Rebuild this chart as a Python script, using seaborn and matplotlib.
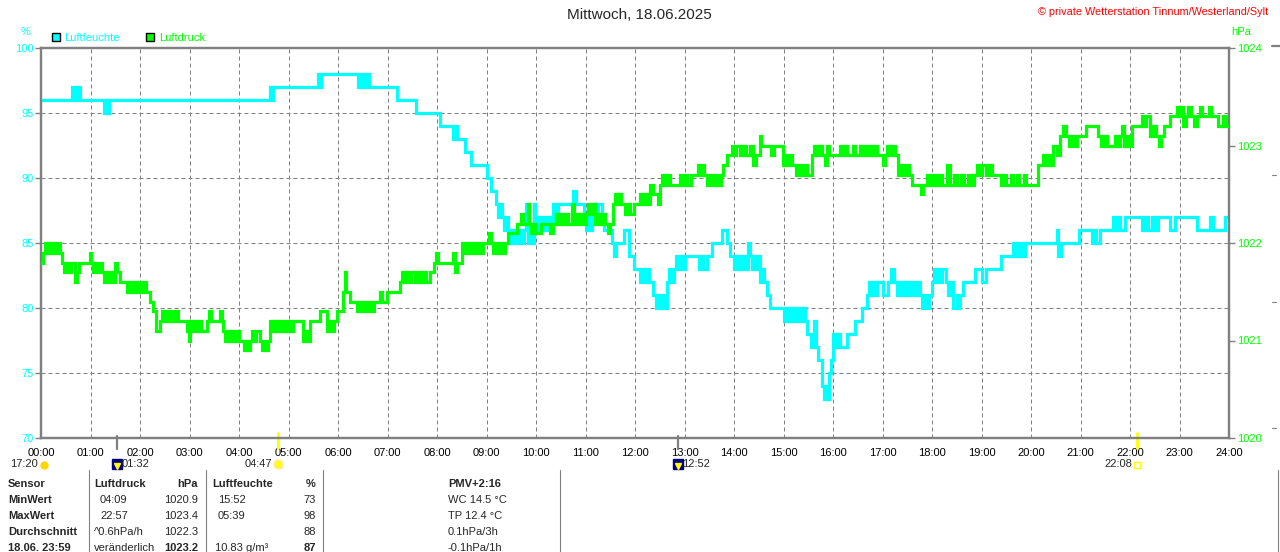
import matplotlib
matplotlib.use("Agg")
import matplotlib.pyplot as plt
from matplotlib.lines import Line2D
import pandas as pd
import seaborn as sns

# humidity (%) step series: hour of day -> value
hum_t = [0.00, 0.63, 0.67, 0.70, 0.74, 0.76, 0.79, 1.27, 1.31, 1.34,
         1.38, 4.63, 4.66, 4.69, 5.60, 5.63, 5.66, 6.40, 6.43, 6.47,
         6.51, 6.55, 6.58, 6.62, 7.20, 7.57, 8.07, 8.33, 8.36, 8.40,
         8.57, 8.68, 9.00, 9.10, 9.20, 9.24, 9.28, 9.32, 9.36, 9.40,
         9.43, 9.47, 9.51, 9.55, 9.59, 9.63, 9.67, 9.71, 9.75, 9.80,
         9.83, 9.87, 9.90, 9.95, 9.98, 10.02, 10.06, 10.10, 10.14, 10.18,
         10.22, 10.26, 10.30, 10.35, 10.38, 10.45, 10.75, 10.80, 10.97, 11.01,
         11.05, 11.09, 11.13, 11.17, 11.22, 11.26, 11.33, 11.38, 11.53, 11.57,
         11.61, 11.77, 11.87, 11.97, 12.10, 12.15, 12.19, 12.24, 12.28, 12.37,
         12.42, 12.45, 12.50, 12.55, 12.60, 12.65, 12.69, 12.73, 12.78, 12.82,
         12.86, 12.90, 12.94, 13.00, 13.30, 13.34, 13.38, 13.45, 13.55, 13.75,
         13.85, 13.92, 14.00, 14.04, 14.08, 14.12, 14.16, 14.20, 14.24, 14.28,
         14.32, 14.36, 14.40, 14.44, 14.48, 14.52, 14.56, 14.60, 14.66, 14.72,
         15.00, 15.04, 15.08, 15.12, 15.16, 15.20, 15.25, 15.30, 15.35, 15.40,
         15.44, 15.47, 15.55, 15.62, 15.65, 15.70, 15.78, 15.82, 15.86, 15.88,
         15.92, 15.96, 16.00, 16.04, 16.08, 16.14, 16.28, 16.45, 16.58, 16.68,
         16.72, 16.76, 16.80, 16.84, 16.88, 17.02, 17.12, 17.18, 17.24, 17.29,
         17.33, 17.37, 17.41, 17.45, 17.50, 17.55, 17.60, 17.65, 17.70, 17.76,
         17.80, 17.84, 17.88, 17.93, 17.99, 18.04, 18.08, 18.12, 18.16, 18.20,
         18.29, 18.33, 18.38, 18.43, 18.50, 18.53, 18.56, 18.63, 18.87, 19.00,
         19.10, 19.40, 19.64, 19.68, 19.72, 19.76, 19.80, 19.84, 19.88, 20.52,
         20.55, 20.60, 20.96, 21.23, 21.27, 21.31, 21.39, 21.66, 21.70, 21.75,
         21.80, 21.90, 22.24, 22.30, 22.36, 22.45, 22.50, 22.57, 22.81, 22.91,
         23.35, 23.62, 23.68, 23.92, 24.00]
hum_v = [96, 97, 96, 97, 96, 97, 96, 95, 96, 95,
         96, 97, 96, 97, 98, 97, 98, 97, 98, 97,
         98, 97, 98, 97, 96, 95, 94, 93, 94, 93,
         92, 91, 90, 89, 88, 87, 88, 87, 86, 87,
         86, 85, 86, 85, 86, 85, 86, 85, 86, 88,
         85, 86, 85, 88, 86, 87, 86, 87, 86, 87,
         86, 87, 86, 88, 87, 88, 89, 88, 87, 86,
         87, 86, 87, 88, 87, 88, 87, 86, 85, 84,
         85, 86, 84, 83, 82, 83, 82, 83, 82, 81,
         80, 81, 80, 81, 80, 82, 83, 82, 83, 84,
         83, 84, 83, 84, 83, 84, 83, 84, 85, 86,
         85, 84, 83, 84, 83, 84, 83, 84, 83, 85,
         84, 83, 84, 83, 84, 82, 83, 82, 81, 80,
         79, 80, 79, 80, 79, 80, 79, 80, 79, 80,
         79, 78, 77, 79, 77, 76, 74, 73, 74, 73,
         75, 76, 78, 77, 78, 77, 78, 79, 80, 81,
         82, 81, 82, 81, 82, 81, 82, 83, 82, 81,
         82, 81, 82, 81, 82, 81, 82, 81, 82, 81,
         80, 81, 80, 81, 82, 83, 82, 83, 82, 83,
         82, 81, 82, 80, 81, 80, 81, 82, 83, 82,
         83, 84, 85, 84, 85, 84, 85, 84, 85, 86,
         84, 85, 86, 85, 86, 85, 86, 87, 86, 87,
         86, 87, 86, 87, 86, 87, 86, 87, 86, 87,
         86, 87, 86, 87, 87]

# air pressure (hPa) step series
pres_t = [0.00, 0.05, 0.08, 0.12, 0.15, 0.20, 0.24, 0.30, 0.34, 0.38,
          0.42, 0.46, 0.50, 0.55, 0.60, 0.68, 0.72, 0.76, 0.98, 1.01,
          1.05, 1.09, 1.13, 1.17, 1.23, 1.27, 1.31, 1.35, 1.40, 1.45,
          1.50, 1.53, 1.60, 1.73, 1.78, 1.82, 1.88, 1.92, 1.98, 2.02,
          2.08, 2.12, 2.20, 2.26, 2.33, 2.40, 2.44, 2.48, 2.52, 2.56,
          2.62, 2.66, 2.72, 2.76, 2.94, 2.98, 3.02, 3.06, 3.10, 3.14,
          3.20, 3.24, 3.35, 3.40, 3.43, 3.62, 3.65, 3.68, 3.72, 3.76,
          3.80, 3.85, 3.90, 3.95, 4.00, 4.10, 4.14, 4.18, 4.22, 4.26,
          4.30, 4.34, 4.42, 4.46, 4.50, 4.54, 4.58, 4.63, 4.67, 4.71,
          4.75, 4.80, 4.85, 4.90, 4.95, 5.00, 5.05, 5.10, 5.30, 5.34,
          5.38, 5.43, 5.64, 5.77, 5.81, 5.86, 5.92, 5.97, 6.11, 6.14,
          6.17, 6.25, 6.38, 6.42, 6.47, 6.52, 6.57, 6.62, 6.67, 6.72,
          6.85, 6.88, 6.98, 7.25, 7.29, 7.33, 7.37, 7.42, 7.48, 7.55,
          7.62, 7.66, 7.72, 7.78, 7.86, 7.93, 7.98, 8.02, 8.33, 8.36,
          8.40, 8.50, 8.55, 8.60, 8.66, 8.73, 8.78, 8.83, 8.88, 8.93,
          9.05, 9.09, 9.14, 9.18, 9.22, 9.28, 9.32, 9.38, 9.44, 9.61,
          9.70, 9.74, 9.83, 9.86, 9.90, 9.94, 9.98, 10.10, 10.28, 10.35,
          10.40, 10.44, 10.50, 10.55, 10.60, 10.65, 10.72, 10.76, 10.80, 10.86,
          10.92, 10.98, 11.02, 11.06, 11.10, 11.14, 11.20, 11.25, 11.30, 11.35,
          11.39, 11.45, 11.50, 11.56, 11.60, 11.64, 11.68, 11.72, 11.80, 11.85,
          11.90, 11.97, 12.10, 12.14, 12.20, 12.25, 12.30, 12.37, 12.46, 12.50,
          12.55, 12.60, 12.65, 12.70, 12.90, 12.95, 13.00, 13.05, 13.14, 13.28,
          13.32, 13.36, 13.40, 13.45, 13.50, 13.55, 13.62, 13.68, 13.73, 13.78,
          13.85, 13.95, 14.00, 14.05, 14.12, 14.18, 14.25, 14.32, 14.39, 14.45,
          14.52, 14.55, 14.75, 14.80, 14.98, 15.02, 15.06, 15.12, 15.18, 15.25,
          15.30, 15.35, 15.42, 15.48, 15.57, 15.62, 15.67, 15.72, 15.78, 15.83,
          15.87, 15.92, 16.00, 16.14, 16.18, 16.22, 16.28, 16.40, 16.44, 16.55,
          16.58, 16.62, 16.68, 16.74, 16.80, 16.84, 16.88, 17.00, 17.05, 17.10,
          17.15, 17.20, 17.25, 17.32, 17.38, 17.42, 17.48, 17.54, 17.59, 17.78,
          17.82, 17.90, 17.95, 18.02, 18.08, 18.14, 18.20, 18.30, 18.36, 18.45,
          18.50, 18.58, 18.64, 18.72, 18.78, 18.84, 18.90, 18.96, 19.02, 19.10,
          19.16, 19.22, 19.40, 19.45, 19.50, 19.60, 19.64, 19.72, 19.76, 19.85,
          19.90, 20.15, 20.25, 20.30, 20.36, 20.40, 20.45, 20.52, 20.59, 20.64,
          20.70, 20.76, 20.80, 20.86, 20.92, 21.12, 21.36, 21.42, 21.48, 21.54,
          21.70, 21.74, 21.80, 21.84, 21.88, 21.94, 22.00, 22.04, 22.24, 22.28,
          22.32, 22.40, 22.46, 22.52, 22.58, 22.62, 22.68, 22.81, 22.95, 23.00,
          23.04, 23.08, 23.13, 23.18, 23.24, 23.30, 23.35, 23.42, 23.46, 23.60,
          23.64, 23.78, 23.88, 23.94, 24.00]
pres_v = [1021.8, 1021.9, 1022.0, 1021.9, 1022.0, 1021.9, 1022.0, 1021.9, 1022.0, 1021.9,
          1021.8, 1021.7, 1021.8, 1021.7, 1021.8, 1021.6, 1021.7, 1021.8, 1021.9, 1021.8,
          1021.7, 1021.8, 1021.7, 1021.8, 1021.7, 1021.6, 1021.7, 1021.6, 1021.7, 1021.6,
          1021.8, 1021.7, 1021.6, 1021.5, 1021.6, 1021.5, 1021.6, 1021.5, 1021.6, 1021.5,
          1021.6, 1021.5, 1021.4, 1021.3, 1021.1, 1021.2, 1021.3, 1021.2, 1021.3, 1021.2,
          1021.3, 1021.2, 1021.3, 1021.2, 1021.1, 1021.0, 1021.2, 1021.1, 1021.2, 1021.1,
          1021.2, 1021.1, 1021.2, 1021.3, 1021.2, 1021.3, 1021.2, 1021.1, 1021.0, 1021.1,
          1021.0, 1021.1, 1021.0, 1021.1, 1021.0, 1020.9, 1021.0, 1020.9, 1021.0, 1021.1,
          1021.0, 1021.1, 1021.0, 1020.9, 1021.0, 1020.9, 1021.0, 1021.2, 1021.1, 1021.2,
          1021.1, 1021.2, 1021.1, 1021.2, 1021.1, 1021.2, 1021.1, 1021.2, 1021.0, 1021.1,
          1021.0, 1021.2, 1021.3, 1021.1, 1021.2, 1021.1, 1021.2, 1021.3, 1021.5, 1021.7,
          1021.5, 1021.4, 1021.3, 1021.4, 1021.3, 1021.4, 1021.3, 1021.4, 1021.3, 1021.4,
          1021.5, 1021.4, 1021.5, 1021.6, 1021.7, 1021.6, 1021.7, 1021.6, 1021.7, 1021.6,
          1021.7, 1021.6, 1021.7, 1021.6, 1021.7, 1021.8, 1021.9, 1021.8, 1021.9, 1021.7,
          1021.8, 1022.0, 1021.9, 1022.0, 1021.9, 1022.0, 1021.9, 1022.0, 1021.9, 1022.0,
          1022.1, 1022.0, 1021.9, 1022.0, 1021.9, 1022.0, 1021.9, 1022.0, 1022.1, 1022.2,
          1022.3, 1022.2, 1022.4, 1022.2, 1022.1, 1022.2, 1022.1, 1022.2, 1022.1, 1022.2,
          1022.3, 1022.2, 1022.3, 1022.2, 1022.3, 1022.2, 1022.4, 1022.2, 1022.3, 1022.2,
          1022.3, 1022.2, 1022.3, 1022.4, 1022.3, 1022.4, 1022.2, 1022.3, 1022.2, 1022.3,
          1022.2, 1022.1, 1022.2, 1022.4, 1022.5, 1022.4, 1022.5, 1022.4, 1022.3, 1022.4,
          1022.3, 1022.4, 1022.5, 1022.4, 1022.5, 1022.4, 1022.6, 1022.5, 1022.4, 1022.6,
          1022.7, 1022.6, 1022.7, 1022.6, 1022.7, 1022.6, 1022.7, 1022.6, 1022.7, 1022.8,
          1022.7, 1022.8, 1022.7, 1022.6, 1022.7, 1022.6, 1022.7, 1022.6, 1022.7, 1022.8,
          1022.9, 1023.0, 1022.9, 1023.0, 1022.9, 1023.0, 1022.9, 1023.0, 1022.8, 1022.9,
          1023.1, 1023.0, 1022.9, 1023.0, 1022.8, 1022.9, 1022.8, 1022.9, 1022.8, 1022.7,
          1022.8, 1022.7, 1022.8, 1022.7, 1022.9, 1023.0, 1022.9, 1023.0, 1022.9, 1022.8,
          1023.0, 1022.9, 1022.9, 1023.0, 1022.9, 1023.0, 1022.9, 1023.0, 1022.9, 1023.0,
          1022.9, 1023.0, 1022.9, 1023.0, 1022.9, 1023.0, 1022.9, 1022.8, 1022.9, 1023.0,
          1022.9, 1023.0, 1022.9, 1022.7, 1022.8, 1022.7, 1022.8, 1022.7, 1022.6, 1022.5,
          1022.6, 1022.7, 1022.6, 1022.7, 1022.6, 1022.7, 1022.6, 1022.8, 1022.6, 1022.7,
          1022.6, 1022.7, 1022.6, 1022.7, 1022.6, 1022.7, 1022.8, 1022.7, 1022.8, 1022.7,
          1022.8, 1022.7, 1022.6, 1022.7, 1022.6, 1022.7, 1022.6, 1022.7, 1022.6, 1022.7,
          1022.6, 1022.8, 1022.9, 1022.8, 1022.9, 1022.8, 1023.0, 1022.9, 1023.1, 1023.2,
          1023.1, 1023.0, 1023.1, 1023.0, 1023.1, 1023.2, 1023.1, 1023.0, 1023.1, 1023.0,
          1023.1, 1023.0, 1023.1, 1023.2, 1023.0, 1023.1, 1023.0, 1023.2, 1023.3, 1023.2,
          1023.3, 1023.1, 1023.2, 1023.1, 1023.0, 1023.1, 1023.2, 1023.3, 1023.4, 1023.3,
          1023.4, 1023.2, 1023.3, 1023.4, 1023.3, 1023.2, 1023.3, 1023.4, 1023.3, 1023.4,
          1023.3, 1023.2, 1023.3, 1023.2, 1023.2]

hours = list(range(25))
hour_labels = ["%02d:00" % h for h in hours]
hum_ticks = [70, 75, 80, 85, 90, 95, 100]
pres_ticks = [1020, 1021, 1022, 1023, 1024]

# sun / moon events (hour of day)
moonrise, moonset = 1 + 32 / 60, 12 + 52 / 60
sunrise, sunset = 4 + 47 / 60, 22 + 8 / 60

title = "Mittwoch, 18.06.2025"
credit = "\u00a9 private Wetterstation Tinnum/Westerland/Sylt"

# bottom table
col_sensor = ["Sensor", "MinWert", "MaxWert", "Durchschnitt", "18.06. 23:59"]
col_p_info = ["Luftdruck", "04:09", "22:57", "^0.6hPa/h", "ver\u00e4nderlich"]
col_p_val = ["hPa", "1020.9", "1023.4", "1022.3", "1023.2"]
col_h_info = ["Luftfeuchte", "15:52", "05:39", "", "10.83 g/m\u00b3"]
col_h_val = ["%", "73", "98", "88", "87"]
col_extra = ["PMV+2:16", "WC 14.5 \u00b0C", "TP 12.4 \u00b0C", "0.1hPa/3h", "-0.1hPa/1h"]

CYAN = "#00ffff"
GREEN = "#00ff00"
GRAY = "#808080"

sns.set_style("white")
plt.rcParams["font.family"] = ["Liberation Sans", "DejaVu Sans"]
plt.rcParams["font.size"] = 8

W, H = 1280, 552
fig = plt.figure(figsize=(W / 100, H / 100), dpi=100)


def fx(x):
    return x / W


def fy(y):
    return 1 - y / H


ax = fig.add_axes([fx(41), fy(438), (1229 - 41) / W, (438 - 48) / H])
ax2 = ax.twinx()

hum = pd.DataFrame({"t": hum_t, "v": hum_v})
pres = pd.DataFrame({"t": pres_t, "v": pres_v})
sns.lineplot(data=hum, x="t", y="v", ax=ax, color=CYAN, lw=2.3,
             drawstyle="steps-post", estimator=None, sort=False, legend=False,
             solid_joinstyle="miter", zorder=3)
sns.lineplot(data=pres, x="t", y="v", ax=ax2, color=GREEN, lw=2.3,
             drawstyle="steps-post", estimator=None, sort=False, legend=False,
             solid_joinstyle="miter", zorder=3)

ax.set_xlim(0, 24)
ax.set_ylim(70, 100)
ax2.set_ylim(1020, 1024)
ax.set_xticks(hours)
ax.set_xticklabels(hour_labels)
ax.set_yticks(hum_ticks)
ax2.set_yticks(pres_ticks)
for a in (ax, ax2):
    a.set_xlabel("")
    a.set_ylabel("")
    for sp in a.spines.values():
        sp.set_color(GRAY)
        sp.set_linewidth(1.6)

ax.grid(True, color=GRAY, lw=0.72, ls=(0, (4, 3)))
ax.set_axisbelow(True)
ax.tick_params(axis="x", length=0, pad=7.5, labelcolor="black", labelsize=8)
ax.tick_params(axis="y", direction="out", length=4, width=1, color=GRAY,
               labelcolor=CYAN, pad=1, labelsize=8)
ax2.tick_params(axis="y", direction="out", length=4, width=1, color=GRAY,
                labelcolor=GREEN, pad=1.5, labelsize=8)

# header texts
fig.text(fx(639), fy(15), title, ha="center", va="center", fontsize=11)
fig.text(fx(1268), fy(12), credit, ha="right", va="center", fontsize=7.8, color="red")
fig.text(fx(26), fy(32), "%", ha="center", va="center", fontsize=8, color=CYAN)
fig.text(fx(1231), fy(32), "hPa", ha="left", va="center", fontsize=8, color=GREEN)

# legend
for xs, xt, name, col in [(55.5, 64, "Luftfeuchte", CYAN), (149.5, 159, "Luftdruck", GREEN)]:
    fig.add_artist(Line2D([fx(xs)], [fy(37)], transform=fig.transFigure, marker="s",
                          ms=6, mfc=col, mec="black", mew=1, ls="none"))
    fig.text(fx(xt), fy(38), name, ha="left", va="center", fontsize=8, color=col)

# sun / moon markers on the time axis
xt = ax.get_xaxis_transform()


def ay(y):
    return (438 - y) / 390


ax.plot([moonrise, moonrise], [ay(436), ay(449)], transform=xt, color=GRAY, lw=1.6, clip_on=False)
ax.plot([moonset, moonset], [ay(436), ay(449)], transform=xt, color=GRAY, lw=1.6, clip_on=False)
ax.plot([sunrise, sunrise], [ay(433), ay(448)], transform=xt, color="#ffff00", lw=2, clip_on=False)
ax.plot([sunset, sunset], [ay(433), ay(448)], transform=xt, color="#ffff00", lw=2, clip_on=False)

yrow = ay(464)
# day length with a sun icon at the start
ax.text(-0.06, yrow, "17:20", transform=xt, ha="right", va="center", fontsize=8)
ax.plot([0.06], [ay(465)], transform=xt, marker="o", ms=5, color="#ffd700",
        clip_on=False, ls="none")
for t, txt in [(moonrise, "01:32"), (moonset, "12:52")]:
    ax.plot([t], [yrow], transform=xt, marker="s", ms=7, mfc="#000080", mec="#000080",
            clip_on=False, ls="none")
    ax.plot([t], [ay(466)], transform=xt, marker="v", ms=4, color="#ffff00",
            clip_on=False, ls="none")
    ax.text(t + 0.09, yrow, txt, transform=xt, ha="left", va="center", fontsize=8)
ax.plot([sunrise], [yrow], transform=xt, marker="o", ms=6, mfc="#ffff00", mec="#ffee88",
        mew=1.5, clip_on=False, ls="none")
ax.text(sunrise - 0.12, yrow, "04:47", transform=xt, ha="right", va="center", fontsize=8)
ax.plot([sunset], [ay(465)], transform=xt, marker="s", ms=4, mfc="none", mec="#ffff00",
        mew=1, clip_on=False, ls="none")
ax.text(sunset - 0.09, yrow, "22:08", transform=xt, ha="right", va="center", fontsize=8)

# table
rows_y = [484, 500, 516, 532, 548]
for i, y in enumerate(rows_y):
    head = i == 0
    fig.text(fx(8), fy(y), col_sensor[i], ha="left", va="center", fontsize=8, fontweight="bold")
    fig.text(fx(94 if i in (0, 3, 4) else 100), fy(y), col_p_info[i], ha="left", va="center",
             fontsize=8, fontweight="bold" if head else "normal")
    fig.text(fx(198), fy(y), col_p_val[i], ha="right", va="center", fontsize=8,
             fontweight="bold" if i in (0, 4) else "normal")
    fig.text(fx(212 if head else 218 if i < 4 else 215), fy(y), col_h_info[i], ha="left",
             va="center", fontsize=8, fontweight="bold" if head else "normal")
    fig.text(fx(316), fy(y), col_h_val[i], ha="right", va="center", fontsize=8,
             fontweight="bold" if i in (0, 4) else "normal")
    fig.text(fx(448), fy(y), col_extra[i], ha="left", va="center", fontsize=8,
             fontweight="bold" if head else "normal")

for xs in [88.8, 205.9, 323.4, 559.5, 1278]:
    fig.add_artist(Line2D([fx(xs), fx(xs)], [fy(470), fy(552)], transform=fig.transFigure,
                          color=GRAY, lw=0.8))

# start of the neighbouring panel at the right edge
fig.add_artist(Line2D([fx(1272), fx(1280)], [fy(46), fy(46)], transform=fig.transFigure,
                      color=GRAY, lw=1.6))
for yy in [175, 302, 428]:
    fig.add_artist(Line2D([fx(1272), fx(1276)], [fy(yy), fy(yy)], transform=fig.transFigure,
                          color=GRAY, lw=0.8))

fig.savefig("out.png", dpi=100, facecolor="white")
